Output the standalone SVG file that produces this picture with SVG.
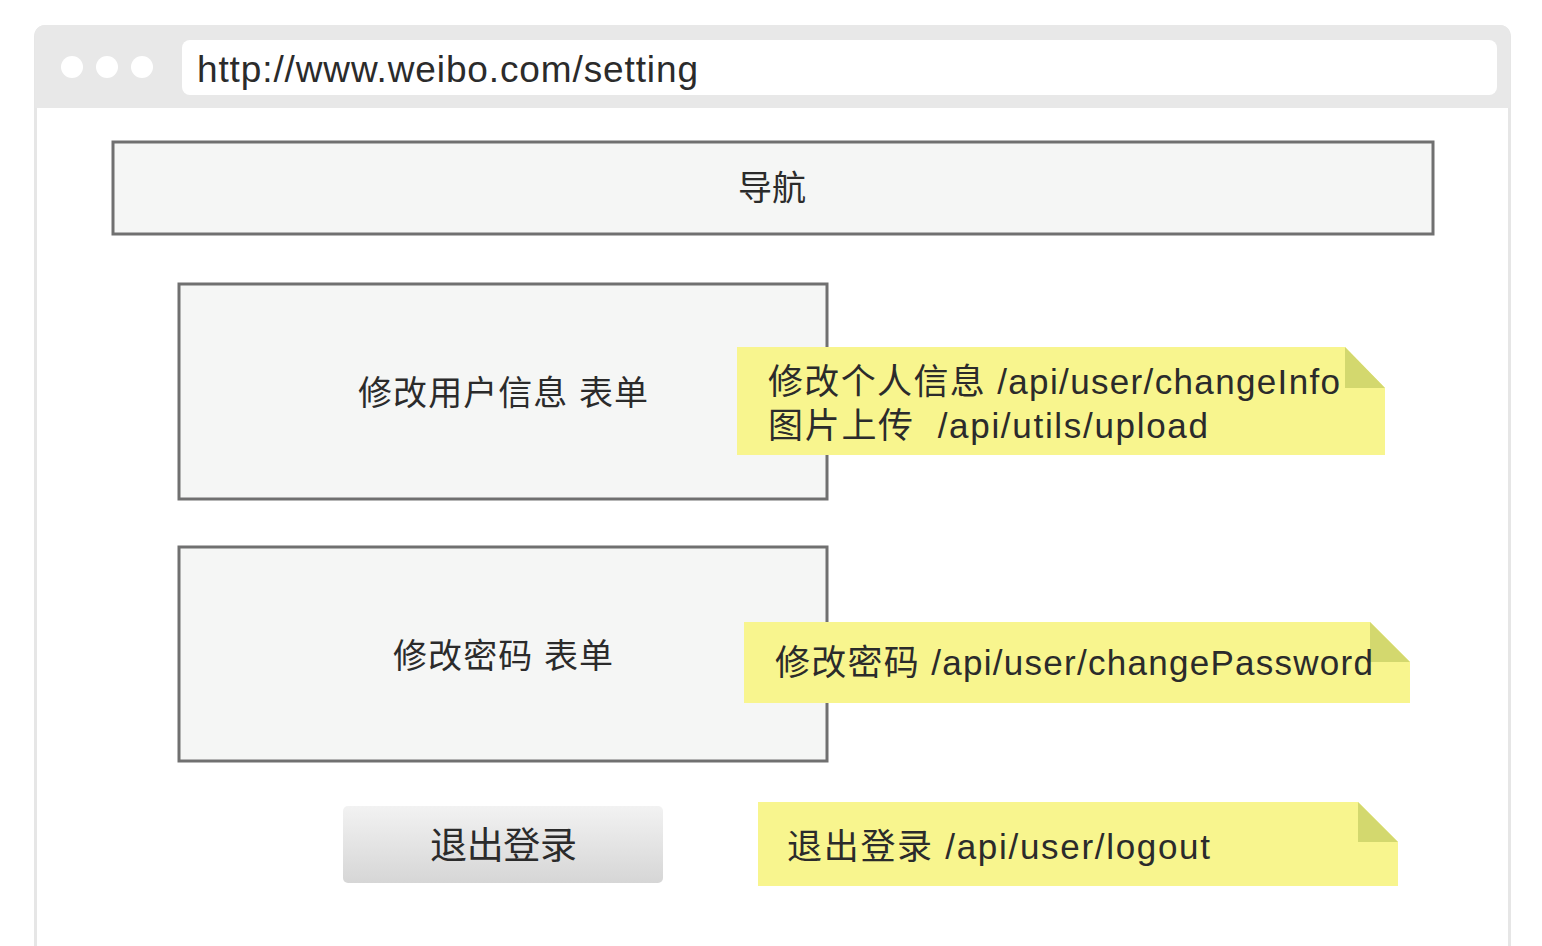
<svg xmlns="http://www.w3.org/2000/svg" width="1542" height="946" viewBox="0 0 1542 946">
<defs>
<linearGradient id="btn" x1="0" y1="0" x2="0" y2="1">
<stop offset="0" stop-color="#f2f2f2"/>
<stop offset="1" stop-color="#d6d6d6"/>
</linearGradient>
<style>
.t{font-family:"Liberation Sans","Noto Sans CJK SC",sans-serif;fill:#2b2b2b}
.box{fill:#f5f6f5;stroke:#707070;stroke-width:3}
.note{fill:#f8f58e}
.fold{fill:#d3d86e}
</style>
</defs>
<rect width="1542" height="946" fill="#ffffff"/>
<g id="browser">
<rect x="35.5" y="26.5" width="1474" height="940" rx="10" fill="#ffffff" stroke="#e6e6e6" stroke-width="3"/>
<path d="M35,108 V36 Q35,25 46,25 H1499 Q1510,25 1510,36 V108 Z" fill="#e8e8e8"/>
<circle cx="72" cy="67" r="11" fill="#ffffff"/>
<circle cx="107" cy="67" r="11" fill="#ffffff"/>
<circle cx="142" cy="67" r="11" fill="#ffffff"/>
<rect x="182" y="40" width="1315" height="55" rx="8" fill="#ffffff"/>
<text class="t" x="197" y="82" font-size="37" textLength="501" lengthAdjust="spacing">http://www.weibo.com/setting</text>
</g>
<g id="nav">
<rect class="box" x="113" y="142" width="1320" height="92"/>
<text class="t" x="772" y="200" font-size="34" text-anchor="middle">导航</text>
</g>
<g id="form-info">
<rect class="box" x="179" y="284" width="648" height="215"/>
<text class="t" x="358" y="405" font-size="34" textLength="290" lengthAdjust="spacing">修改用户信息 表单</text>
</g>
<g id="form-password">
<rect class="box" x="179" y="547" width="648" height="214"/>
<text class="t" x="393" y="668" font-size="34" textLength="220" lengthAdjust="spacing">修改密码 表单</text>
</g>
<g id="logout-button">
<rect x="343" y="806" width="320" height="77" rx="5" fill="url(#btn)"/>
<text class="t" x="430" y="859" font-size="37" textLength="147" lengthAdjust="spacing">退出登录</text>
</g>
<g id="note-info">
<path class="note" d="M737,347 H1345 L1385,388 V455 H737 Z"/>
<path class="fold" d="M1345,347 L1385,388 H1345 Z"/>
<text class="t" x="768" y="394" font-size="35" textLength="572" lengthAdjust="spacing">修改个人信息 /api/user/changeInfo</text>
<text class="t" x="768" y="438" font-size="35" textLength="440" lengthAdjust="spacing">图片上传&#160; /api/utils/upload</text>
</g>
<g id="note-password">
<path class="note" d="M744,622 H1370 L1410,662 V703 H744 Z"/>
<path class="fold" d="M1370,622 L1410,662 H1370 Z"/>
<text class="t" x="775" y="675" font-size="35" textLength="598" lengthAdjust="spacing">修改密码 /api/user/changePassword</text>
</g>
<g id="note-logout">
<path class="note" d="M758,802 H1358 L1398,842 V886 H758 Z"/>
<path class="fold" d="M1358,802 L1398,842 H1358 Z"/>
<text class="t" x="787" y="859" font-size="35" textLength="423" lengthAdjust="spacing">退出登录 /api/user/logout</text>
</g>
<g id="connectors"></g>
</svg>
